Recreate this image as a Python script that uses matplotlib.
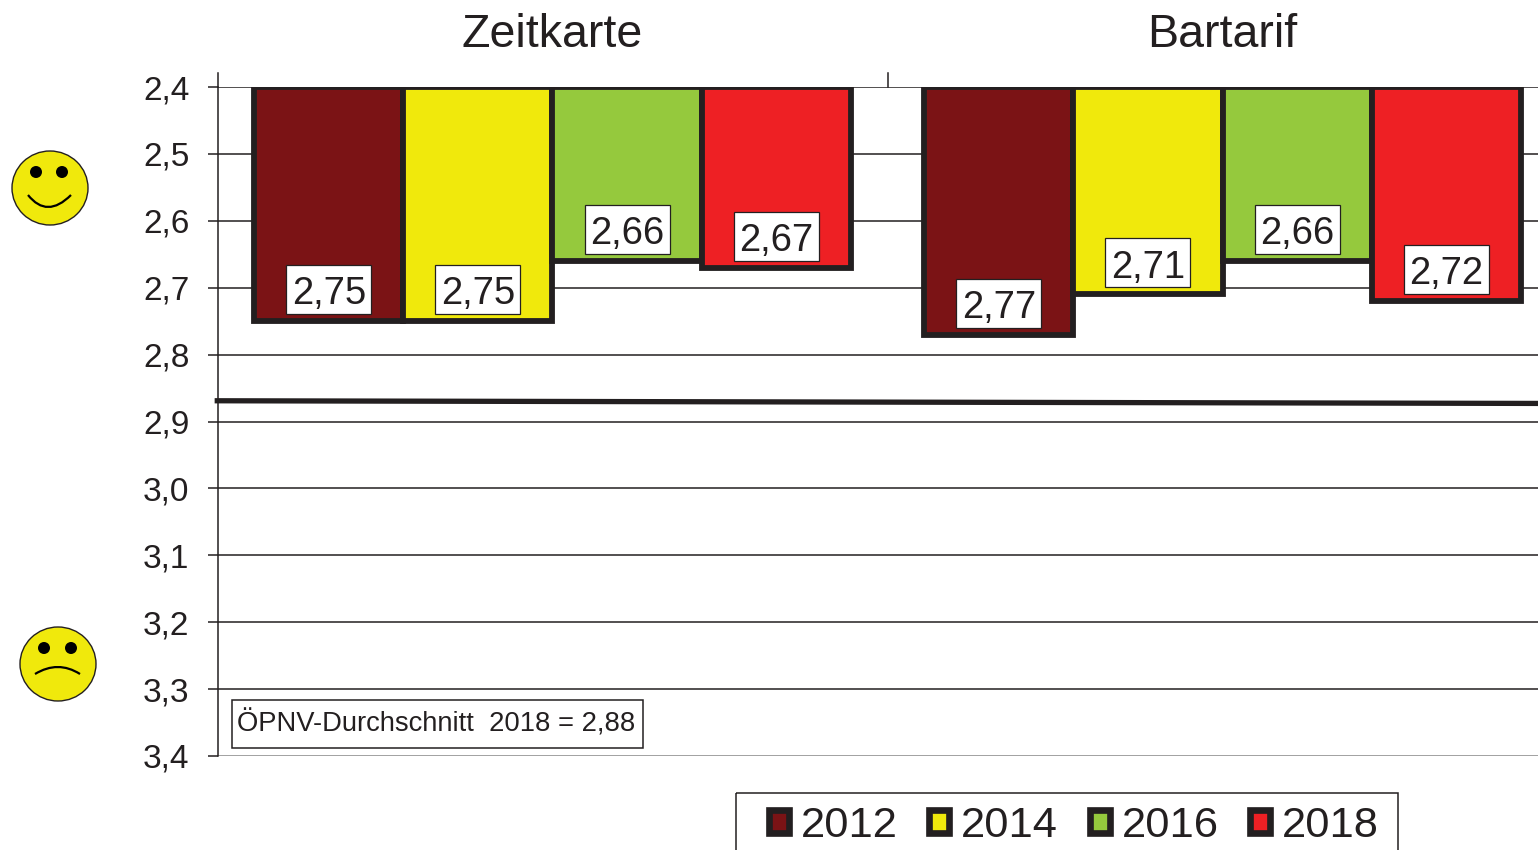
"""Zufriedenheit Zeitkarte / Bartarif, bars hanging from the top of an inverted axis."""

import matplotlib

matplotlib.use("Agg")
import matplotlib.pyplot as plt
import numpy as np
from matplotlib.patches import Circle, Ellipse, PathPatch, Patch, Rectangle
from matplotlib.path import Path
from matplotlib.transforms import ScaledTranslation

plt.rcParams["font.family"] = ["Liberation Sans", "DejaVu Sans"]

CATEGORIES = ["Zeitkarte", "Bartarif"]
YEARS = ["2012", "2014", "2016", "2018"]
VALUES = {
    "2012": [2.75, 2.77],
    "2014": [2.75, 2.71],
    "2016": [2.66, 2.66],
    "2018": [2.67, 2.72],
}
COLORS = ["#7b1315", "#f0e90c", "#95c93d", "#ee2024"]
YTICKS = [2.4, 2.5, 2.6, 2.7, 2.8, 2.9, 3.0, 3.1, 3.2, 3.3, 3.4]
AVERAGE_LINE = [2.869, 2.873]
AVERAGE_TEXT = "ÖPNV-Durchschnitt  2018 = 2,88"

DARK = "#231f20"
BAR_W = 0.2225


def comma(v, digits):
    return f"{v:.{digits}f}".replace(".", ",")


def smiley(ax, cx, cy, rx, ry, eyes, mouth):
    ax.add_patch(Ellipse((cx, cy), 2 * rx, 2 * ry, fc="#f0e90c", ec=DARK, lw=1))
    for ex, ey in eyes:
        ax.add_patch(Circle((ex, ey), 6, fc="black", ec="none"))
    path = Path(mouth, [Path.MOVETO, Path.CURVE3, Path.CURVE3])
    ax.add_patch(PathPatch(path, fc="none", ec="black", lw=1.6))


def main():
    fig = plt.figure(figsize=(15.38, 8.5), dpi=100)
    ax = fig.add_axes([218 / 1538, 1 - 756 / 850, 1320 / 1538, 669 / 850])
    ax.patch.set_alpha(0)

    x = np.arange(len(CATEGORIES))
    for i, year in enumerate(YEARS):
        vals = VALUES[year]
        offs = x + (i - 1.5) * BAR_W
        ax.bar(offs, np.array(vals) - 2.4, BAR_W, bottom=2.4, color=COLORS[i],
               edgecolor=DARK, linewidth=4.2, zorder=3, joinstyle="miter")
        for xx, v in zip(offs, vals):
            # label box is placed on its own so the digits sit centred in it
            anchor = fig.dpi_scale_trans + ScaledTranslation(xx, v, ax.transData)
            ax.add_patch(Rectangle((-0.425, 0.07), 0.85, 0.49, transform=anchor, fc="white",
                                   ec=DARK, lw=0.9, zorder=5))
            ax.annotate(comma(v, 2), (xx, v), xytext=(0, 12), textcoords="offset points",
                        ha="center", va="baseline", fontsize=27.5, color=DARK, zorder=6)

    ax.set_xlim(-0.4992, 1.4708)
    ax.set_ylim(3.4, 2.4)
    ax.set_yticks(YTICKS)
    ax.set_yticklabels([comma(v, 1) for v in YTICKS], fontsize=24, color=DARK)
    ax.tick_params(axis="y", length=7.5, width=1.1, color=DARK, pad=13)
    ax.set_xticks([])
    ax.grid(axis="y", color=DARK, lw=1.1, zorder=1)
    ax.get_ygridlines()[-1].set_color("#888888")
    ax.set_axisbelow(True)
    for side in ["top", "right", "bottom"]:
        ax.spines[side].set_visible(False)
    ax.spines["left"].set_bounds(3.4, 2.4)
    ax.spines["left"].set_color(DARK)
    ax.spines["left"].set_linewidth(1.1)

    ax.plot([-0.5042, 1.4708], AVERAGE_LINE, color=DARK, lw=3.8, zorder=4, clip_on=False,
            solid_capstyle="butt")

    ax.text(0.0144, 0.048, AVERAGE_TEXT, transform=ax.transAxes, fontsize=19.7, color=DARK,
            ha="left", va="center")

    for xx, name in zip(x, CATEGORIES):
        ax.text(xx, 1.077, name, transform=ax.get_xaxis_transform(), ha="center", va="center",
                fontsize=33.5, color=DARK)

    # pixel overlay for the faces and other decoration around the plot
    over = fig.add_axes([0, 0, 1, 1], zorder=-1)
    over.set_xlim(0, 1538)
    over.set_ylim(850, 0)
    over.axis("off")
    smiley(over, 50, 188, 38, 37, [(36, 172), (62, 172)], [(28, 195), (47, 219), (71, 195)])
    smiley(over, 58, 664, 38, 37, [(44, 648), (71, 648)], [(35, 674), (58, 660), (80, 674)])
    over.plot([218, 218], [73, 87], color=DARK, lw=1.1)
    over.plot([888, 888], [73, 87], color=DARK, lw=1.1)
    over.add_patch(Rectangle((232, 700), 411, 48, fc="none", ec=DARK, lw=1.1))
    over.add_patch(Rectangle((736, 793), 662, 70, fc="none", ec=DARK, lw=1.1))

    handles = [Patch(fc=c, ec=DARK, lw=4.8, joinstyle="round") for c in COLORS]
    fig.legend(handles, YEARS, loc="center left", bbox_to_anchor=(769 / 1538, 1 - 826 / 850),
               ncol=4, frameon=False, borderaxespad=0, borderpad=0,
               prop={"size": 31.3},
               handlelength=0.46, handleheight=0.46, handletextpad=0.27, columnspacing=0.73,
               labelcolor=DARK)

    fig.savefig("out.png", dpi=100)
    plt.close(fig)


if __name__ == "__main__":
    main()
